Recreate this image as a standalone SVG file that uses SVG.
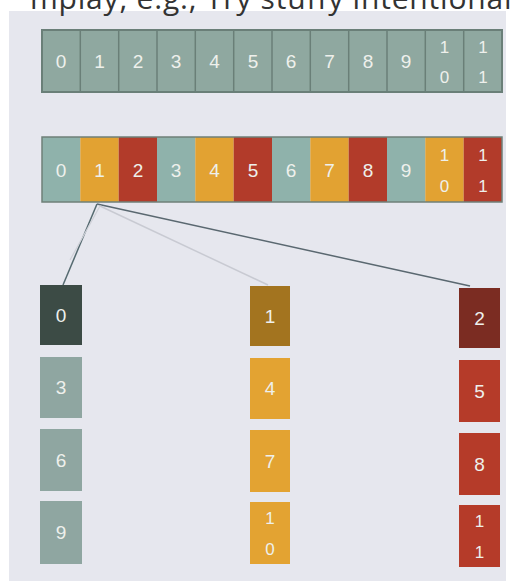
<svg xmlns="http://www.w3.org/2000/svg" width="513" height="581" viewBox="0 0 513 581">
<style>
.t{font-family:"Liberation Sans",Arial,sans-serif;font-size:19px;fill:#eef0ec;text-anchor:middle;dominant-baseline:central}
.s{font-size:17px}
.te{fill:#8fb2ab}
.or{fill:#e2a232}
.rd{fill:#b23b2a}
.sep{stroke:#6a7f78;stroke-width:1.5}
</style>
<rect x="0" y="0" width="513" height="581" fill="#ffffff"/>
<rect x="9" y="11" width="497" height="570" fill="#e6e7ee"/>
<text x="30" y="9" style="font-family:'Open Sans','Liberation Sans',sans-serif;font-size:30px;letter-spacing:0.8px;fill:#333">mplay, e.g., Try stuffy intentional</text>
<g id="top-array">
<rect x="42" y="30" width="460" height="62" fill="#8fa8a0" stroke="#6a7f78" stroke-width="2"/>
<g class="sep">
<line x1="80.3" y1="30" x2="80.3" y2="92"/><line x1="118.7" y1="30" x2="118.7" y2="92"/><line x1="157" y1="30" x2="157" y2="92"/><line x1="195.3" y1="30" x2="195.3" y2="92"/><line x1="233.7" y1="30" x2="233.7" y2="92"/><line x1="272" y1="30" x2="272" y2="92"/><line x1="310.3" y1="30" x2="310.3" y2="92"/><line x1="348.7" y1="30" x2="348.7" y2="92"/><line x1="387" y1="30" x2="387" y2="92"/><line x1="425.3" y1="30" x2="425.3" y2="92"/><line x1="463.7" y1="30" x2="463.7" y2="92"/>
</g>
<text class="t" x="61" y="61">0</text><text class="t" x="99.5" y="61">1</text><text class="t" x="138" y="61">2</text><text class="t" x="176" y="61">3</text><text class="t" x="214.5" y="61">4</text><text class="t" x="253" y="61">5</text><text class="t" x="291" y="61">6</text><text class="t" x="329.5" y="61">7</text><text class="t" x="368" y="61">8</text><text class="t" x="406" y="61">9</text>
<text class="t s" x="444.5" y="47">1</text><text class="t s" x="444.5" y="77">0</text>
<text class="t s" x="483" y="47">1</text><text class="t s" x="483" y="77">1</text>
</g>
<g id="colored-array">
<rect class="te" x="42" y="137" width="38.3" height="65"/>
<rect class="or" x="80.3" y="137" width="38.4" height="65"/>
<rect class="rd" x="118.7" y="137" width="38.3" height="65"/>
<rect class="te" x="157" y="137" width="38.3" height="65"/>
<rect class="or" x="195.3" y="137" width="38.4" height="65"/>
<rect class="rd" x="233.7" y="137" width="38.3" height="65"/>
<rect class="te" x="272" y="137" width="38.3" height="65"/>
<rect class="or" x="310.3" y="137" width="38.4" height="65"/>
<rect class="rd" x="348.7" y="137" width="38.3" height="65"/>
<rect class="te" x="387" y="137" width="38.3" height="65"/>
<rect class="or" x="425.3" y="137" width="38.4" height="65"/>
<rect class="rd" x="463.7" y="137" width="38.3" height="65"/>
<rect x="42" y="137" width="460" height="65" fill="none" stroke="#6f8078" stroke-width="1.5"/>
<text class="t" x="61" y="170">0</text><text class="t" x="99.5" y="170">1</text><text class="t" x="138" y="170">2</text><text class="t" x="176" y="170">3</text><text class="t" x="214.5" y="170">4</text><text class="t" x="253" y="170">5</text><text class="t" x="291" y="170">6</text><text class="t" x="329.5" y="170">7</text><text class="t" x="368" y="170">8</text><text class="t" x="406" y="170">9</text>
<text class="t s" x="444.5" y="155">1</text><text class="t s" x="444.5" y="186">0</text>
<text class="t s" x="483" y="155">1</text><text class="t s" x="483" y="186">1</text>
</g>
<g id="connectors" fill="none">
<line x1="97" y1="204" x2="63" y2="285" stroke="#556a70" stroke-width="1.5"/>
<line x1="97" y1="204" x2="470" y2="286" stroke="#5a6870" stroke-width="1.5"/>
<line x1="100" y1="206" x2="268" y2="285" stroke="#c8cad2" stroke-width="1.5"/>
<line x1="100" y1="206" x2="70" y2="260" stroke="#cfd1d8" stroke-width="1.2"/>
</g>
<g id="col0">
<rect x="40" y="285" width="42" height="60" fill="#3c4b45"/><text class="t" x="61" y="315">0</text>
<rect x="40" y="357" width="42" height="61" fill="#8fa6a1"/><text class="t" x="61" y="387">3</text>
<rect x="40" y="429" width="42" height="62" fill="#8fa6a1"/><text class="t" x="61" y="460">6</text>
<rect x="40" y="501" width="42" height="63" fill="#8fa6a1"/><text class="t" x="61" y="532">9</text>
</g>
<g id="col1">
<rect x="250" y="286" width="40" height="60" fill="#a3741f"/><text class="t" x="270" y="316">1</text>
<rect x="250" y="358" width="40" height="61" fill="#e3a332"/><text class="t" x="270" y="388">4</text>
<rect x="250" y="430" width="40" height="62" fill="#e3a332"/><text class="t" x="270" y="461">7</text>
<rect x="250" y="502" width="40" height="62" fill="#e3a332"/><text class="t s" x="270" y="518">1</text><text class="t s" x="270" y="549">0</text>
</g>
<g id="col2">
<rect x="459" y="288" width="41" height="60" fill="#7b2c22"/><text class="t" x="479.5" y="318">2</text>
<rect x="459" y="360" width="41" height="62" fill="#b53b29"/><text class="t" x="479.5" y="391">5</text>
<rect x="459" y="433" width="41" height="62" fill="#b53b29"/><text class="t" x="479.5" y="464">8</text>
<rect x="459" y="505" width="41" height="62" fill="#b53b29"/><text class="t s" x="479.5" y="521">1</text><text class="t s" x="479.5" y="552">1</text>
</g>
</svg>
